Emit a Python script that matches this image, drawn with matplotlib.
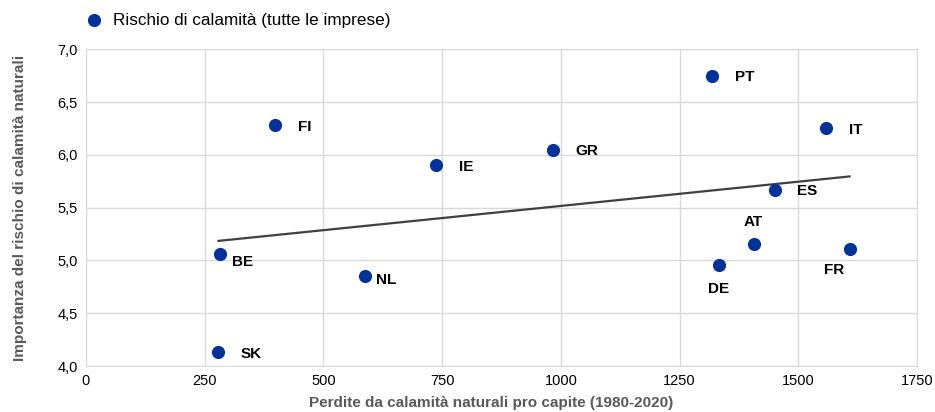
import matplotlib
matplotlib.use("Agg")
import matplotlib.pyplot as plt
import numpy as np
from matplotlib.ticker import FuncFormatter

plt.rcParams['font.family'] = ['Liberation Sans', 'DejaVu Sans']

countries = ["SK", "BE", "FI", "NL", "IE", "GR", "PT", "IT", "ES", "AT", "DE", "FR"]
losses = [279, 283, 399, 587, 738, 984, 1319, 1559, 1450, 1406, 1332, 1608]
risk = [4.13, 5.06, 6.28, 4.85, 5.90, 6.05, 6.75, 6.25, 5.67, 5.16, 4.96, 5.11]

# label offsets in points and horizontal alignment
offsets = {
    "SK": (16, -1, "left"), "BE": (8.5, -5.6, "left"), "FI": (16, -1, "left"),
    "NL": (8.4, -3, "left"), "IE": (16, -1, "left"), "GR": (16, -1, "left"),
    "PT": (16, -1, "left"), "IT": (16, -1, "left"), "ES": (16, -1, "left"),
    "AT": (0, 15.5, "center"), "DE": (0, -17.3, "center"), "FR": (-11, -15.4, "center"),
}

blue = "#003299"
fig = plt.figure(figsize=(9.35, 4.12), dpi=100)
ax = fig.add_axes([86/935, 1-366/412, (917-86)/935, (366-49.3)/412])

ax.scatter(losses, risk, s=90, color=blue, zorder=3, linewidths=0,
           label="Rischio di calamità (tutte le imprese)")
for c, x, y in zip(countries, losses, risk):
    dx, dy, ha = offsets[c]
    ax.annotate(c, (x, y), xytext=(dx, dy), textcoords="offset points",
                ha=ha, va="center", fontsize=11, fontweight="bold", color="#000000")

m, b = np.polyfit(losses, risk, 1)
xs = np.array([min(losses), max(losses)])
ax.plot(xs, m*xs + b, color="#404040", lw=1.6, zorder=2)

ax.set_xlim(0, 1750)
ax.set_ylim(4.0, 7.0)
ax.set_xticks(np.arange(0, 1751, 250))
ax.set_yticks(np.arange(4.0, 7.01, 0.5))
ax.yaxis.set_major_formatter(FuncFormatter(lambda v, p: f"{v:.1f}".replace(".", ",")))
ax.grid(True, color="#d9d9d9", lw=1)
ax.set_axisbelow(True)
for s in ax.spines.values():
    s.set_color("#d9d9d9")
ax.tick_params(length=0, labelsize=10.5, colors="#000000", pad=6)
ax.set_xlabel("Perdite da calamità naturali pro capite (1980-2020)", fontsize=11,
              fontweight="bold", color="#595959")
ax.xaxis.set_label_coords(0.487, -0.095)
ax.set_ylabel("Importanza del rischio di calamità naturali", fontsize=11,
              fontweight="bold", color="#595959")
ax.yaxis.set_label_coords(-0.071, 0.5)

ax.legend(loc="center left", bbox_to_anchor=(-0.001, 1.0925), frameon=False, fontsize=12.3,
          handletextpad=0.6, handlelength=1.0, borderaxespad=0, borderpad=0)

fig.savefig("out.png", dpi=100)
